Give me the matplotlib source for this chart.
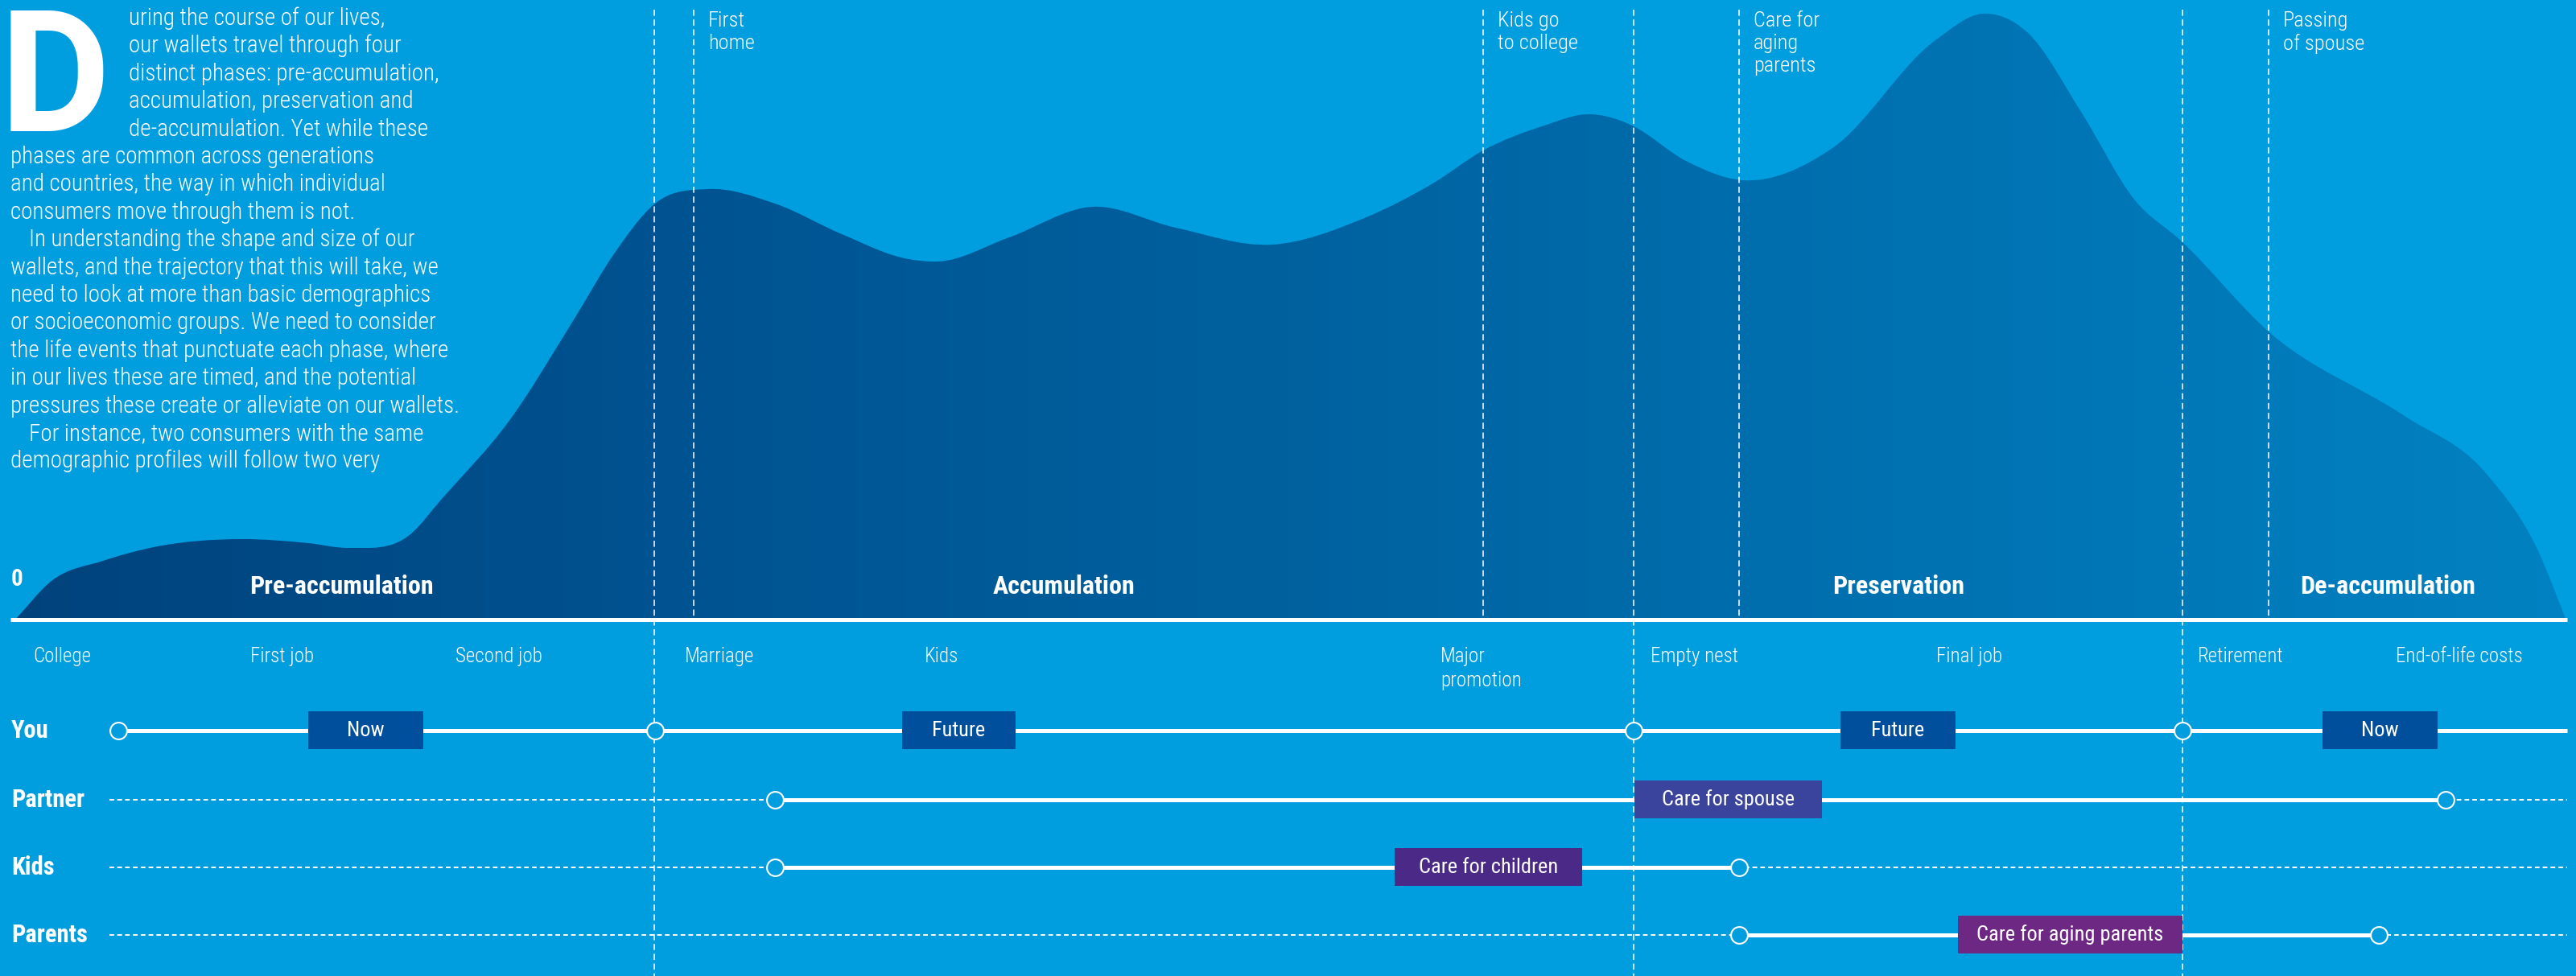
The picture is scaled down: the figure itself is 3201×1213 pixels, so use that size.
import numpy as np
import matplotlib.pyplot as plt
from matplotlib.path import Path
from matplotlib.patches import PathPatch, Rectangle
from matplotlib.colors import LinearSegmentedColormap

plt.rcParams['font.family'] = ['Roboto Condensed', 'PT Sans Narrow', 'Archivo Narrow', 'DejaVu Sans']

W, H = 3201, 1213
BASE = 770          # y of the white timeline baseline
BG = '#009ede'

# wallet size curve (position along life, height above baseline)
life_x = [19, 64, 128, 191, 300, 383, 434, 510, 549, 632, 715, 764, 814, 880,
          963, 1046, 1129, 1166, 1254, 1357, 1461, 1581, 1693, 1782, 1843, 1916,
          1977, 2014, 2030, 2095, 2166, 2277, 2405, 2464, 2519, 2586, 2653, 2710,
          2820, 2988, 3088, 3155, 3187]
wallet = [0, 48, 73, 90, 100, 95, 89, 106, 150, 246, 376, 456, 517, 535,
          517, 479, 448, 445, 475, 513, 487, 466, 498, 543, 583, 613,
          628, 620, 613, 570, 546, 586, 720, 753, 730, 631, 521, 471,
          357, 253, 183, 83, 4]

phases = ['Pre-accumulation', 'Accumulation', 'Preservation', 'De-accumulation']
phase_x = [424, 1322, 2359, 2967]

phase_bounds = [813, 2030, 2712]          # dashed lines through whole chart
top_events = ['First\nhome', 'Kids go\nto college', 'Care for\naging\nparents', 'Passing\nof spouse']
top_event_x = [862, 1843, 2161, 2819]

life_events = ['College', 'First job', 'Second job', 'Marriage', 'Kids', 'Major\npromotion',
               'Empty nest', 'Final job', 'Retirement', 'End-of-life costs']
life_event_x = [41, 311, 566, 851, 1149, 1790, 2051, 2406, 2731, 2977]

rows = ['You', 'Partner', 'Kids', 'Parents']
row_y = [908, 994, 1078, 1162]
row_solid = [(147, 3190), (963, 3039), (963, 2161), (2161, 2956)]
row_circles = [[147, 814, 2030, 2712], [963, 3039], [963, 2161], [2161, 2956]]

box_row = [0, 0, 0, 0, 1, 2, 3]
box_text = ['Now', 'Future', 'Future', 'Now', 'Care for spouse', 'Care for children', 'Care for aging parents']
box_x0 = [383, 1121, 2287, 2886, 2031, 1733, 2433]
box_x1 = [526, 1262, 2430, 3029, 2264, 1966, 2712]
box_col = ['#004f9d', '#004f9d', '#004f9d', '#004f9d', '#3b449c', '#4a2a86', '#6c2883']

body = [
    'uring the course of our lives,',
    'our wallets travel through four',
    'distinct phases: pre-accumulation,',
    'accumulation, preservation and',
    'de-accumulation. Yet while these',
    'phases are common across generations',
    'and countries, the way in which individual',
    'consumers move through them is not.',
    'In understanding the shape and size of our',
    'wallets, and the trajectory that this will take, we',
    'need to look at more than basic demographics',
    'or socioeconomic groups. We need to consider',
    'the life events that punctuate each phase, where',
    'in our lives these are timed, and the potential',
    'pressures these create or alleviate on our wallets.',
    'For instance, two consumers with the same',
    'demographic profiles will follow two very',
]

fig = plt.figure(figsize=(W / 100, H / 100), dpi=100, facecolor=BG)
ax = fig.add_axes([0, 0, 1, 1])
ax.set_xlim(0, W)
ax.set_ylim(H, 0)
ax.set_facecolor(BG)
ax.axis('off')

# smooth area path: cubic hermite through the points, as bezier segments
xs = np.array(life_x, float)
ys = BASE - np.array(wallet, float)
m = np.gradient(ys, xs)
verts = [(xs[0], BASE), (xs[0], ys[0])]
codes = [Path.MOVETO, Path.LINETO]
for i in range(len(xs) - 1):
    dx = xs[i + 1] - xs[i]
    verts += [(xs[i] + dx / 3, ys[i] + m[i] * dx / 3),
              (xs[i + 1] - dx / 3, ys[i + 1] - m[i + 1] * dx / 3),
              (xs[i + 1], ys[i + 1])]
    codes += [Path.CURVE4] * 3
verts += [(xs[-1], BASE), (xs[0], BASE)]
codes += [Path.LINETO, Path.CLOSEPOLY]
area = PathPatch(Path(verts, codes), facecolor='none', edgecolor='none')
ax.add_patch(area)

cmap = LinearSegmentedColormap.from_list('wal', ['#00427c', '#005290', '#00619f', '#0072b2', '#0282c2'])
grad = np.linspace(0, 1, 512)[None, :]
im = ax.imshow(grad, cmap=cmap, extent=[0, W, BASE, 0], aspect='auto', zorder=1)
im.set_clip_path(area)
ax.set_xlim(0, W)
ax.set_ylim(H, 0)

# dashed verticals
for x in phase_bounds:
    ax.plot([x, x], [12, H], color='white', lw=1.1, dashes=(5, 3), zorder=3)
for x, t in zip(top_event_x, top_events):
    ax.plot([x, x], [12, BASE], color='white', lw=1.1, dashes=(5, 3), zorder=3)
    ax.text(x + 18, 14, t, color='white', fontsize=19, fontweight='light', va='top', ha='left',
            linespacing=1.2, zorder=4)

# baseline
ax.plot([13, 3190], [BASE, BASE], color='white', lw=3.6, solid_capstyle='butt', zorder=4)
ax.text(14, 720, '0', color='white', fontsize=21, fontweight='bold', va='center', ha='left', zorder=4)
for x, t in zip(phase_x, phases):
    ax.text(x, 729, t, color='white', fontsize=23, fontweight='bold', va='center', ha='center', zorder=4)

for x, t in zip(life_event_x, life_events):
    ax.text(x, 804, t, color='white', fontsize=18, fontweight='light', va='top', ha='left',
            linespacing=1.3, zorder=4)

# rows
for name, y, (s0, s1), circ in zip(rows, row_y, row_solid, row_circles):
    ax.text(14, y, name, color='white', fontsize=22, fontweight='bold', va='center', ha='left', zorder=4)
    ax.plot([136, 3190], [y, y], color='white', lw=1.4, dashes=(3, 2), zorder=2)
    ax.plot([s0, s1], [y, y], color='white', lw=3.6, solid_capstyle='butt', zorder=3)
    ax.plot(circ, [y] * len(circ), 'o', ms=15, mfc=BG, mec='white', mew=1.5, zorder=5)

for r, t, x0, x1, c in zip(box_row, box_text, box_x0, box_x1, box_col):
    y = row_y[r]
    ax.add_patch(Rectangle((x0, y - 24), x1 - x0, 47, facecolor=c, edgecolor='none', zorder=6))
    ax.text((x0 + x1) / 2, y, t, color='white', fontsize=19, va='center', ha='center', zorder=7)

# intro text with drop cap
ax.text(0, 163, 'D', color='white', fontsize=152, fontweight='bold', va='baseline', ha='left',
        family=['Roboto', 'DejaVu Sans'], zorder=4)
for i, line in enumerate(body):
    x = 160 if i < 5 else 13
    if i in (8, 15):
        x = 36
    ax.text(x, 31 + 34.4 * i, line, color='white', fontsize=21, fontweight='light',
            va='baseline', ha='left', zorder=4)

fig.savefig('out.png', dpi=100, facecolor=BG)
